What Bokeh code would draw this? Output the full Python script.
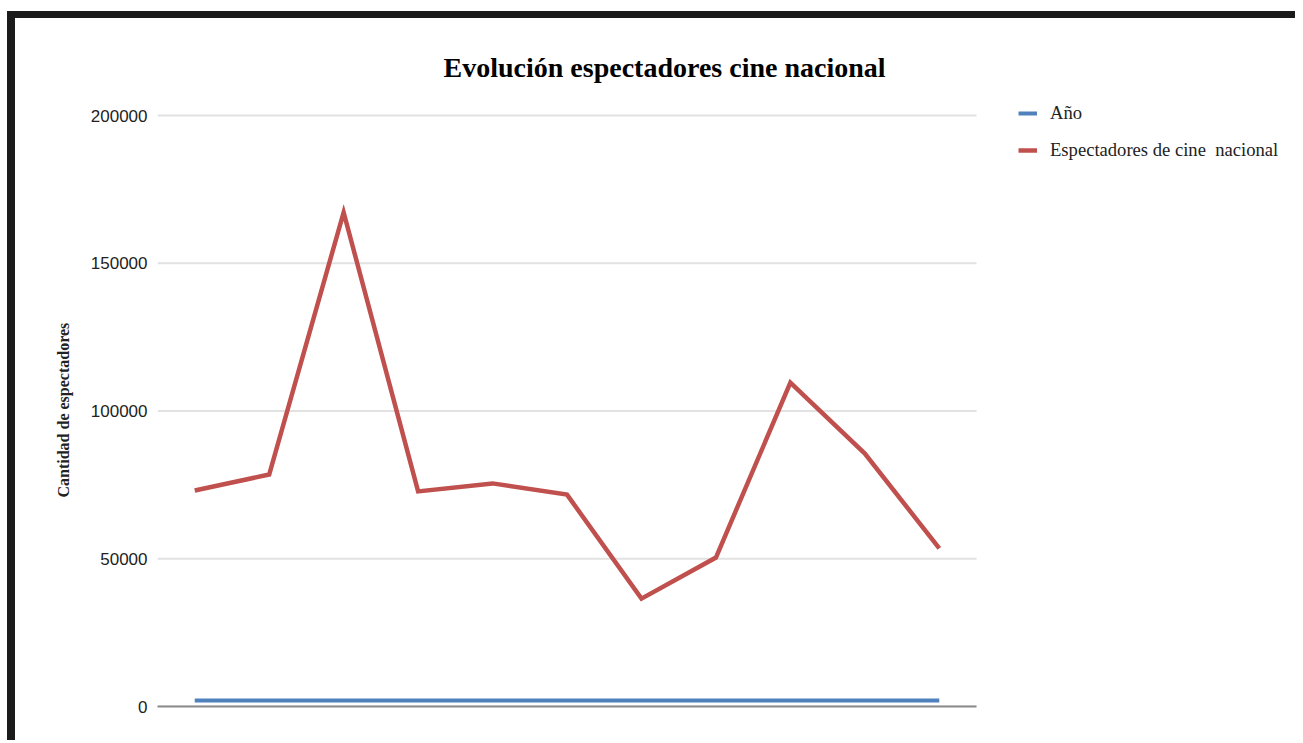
from bokeh.plotting import figure
from bokeh.models import (Range1d, Legend, LegendItem, Title,
                          NumeralTickFormatter, FixedTicker, Spacer)
from bokeh.layouts import column, row
from bokeh.embed import file_html
from bokeh.resources import INLINE

# ---- data ----
years = ["2009", "2010", "2011", "2012", "2013", "2014", "2015", "2016", "2017", "2018", "2019"]
anio = [2009, 2010, 2011, 2012, 2013, 2014, 2015, 2016, 2017, 2018, 2019]
espectadores = [73100, 78500, 167200, 72800, 75500, 71700, 36500, 50400, 109600, 85600, 53500]
y_ticks = [0, 50000, 100000, 150000, 200000]

# category slots: one unit per year, line points at the slot centres
n = len(years)
xs = [i + 0.5 for i in range(n)]

p = figure(width=1280, height=722, x_range=Range1d(0, 15.284),
           y_range=Range1d(0, 205753), output_backend="svg", toolbar_location=None,
           min_border_left=142, min_border_right=0, min_border_top=80,
           min_border_bottom=34)
p.outline_line_color = None
p.background_fill_color = "white"
p.border_fill_color = "white"

# horizontal gridlines spanning only the category area
p.segment(x0=[0] * len(y_ticks), x1=[n] * len(y_ticks), y0=y_ticks, y1=y_ticks,
          line_color="#e2e2e2", line_width=2)

r1 = p.line(xs, anio, line_color="#4f81bd", line_width=4)
r2 = p.line(xs, espectadores, line_color="#c0504d", line_width=4.5, line_join="miter")

p.xgrid.grid_line_color = None
p.ygrid.grid_line_color = None
p.yaxis.ticker = FixedTicker(ticks=y_ticks)
p.yaxis.formatter = NumeralTickFormatter(format="0")
p.yaxis.axis_line_color = None
p.yaxis.major_tick_line_color = None
p.yaxis.minor_tick_line_color = None
p.yaxis.major_tick_out = 0
p.yaxis.major_tick_in = 0
p.yaxis.major_label_standoff = 10
p.yaxis.major_label_text_font = "Liberation Sans"
p.yaxis.major_label_text_font_size = "17px"
p.yaxis.major_label_text_color = "#222222"

p.xaxis.bounds = (0, n)
p.xaxis.axis_line_color = "#8a8a8a"
p.xaxis.axis_line_width = 2
p.xaxis.major_tick_line_color = None
p.xaxis.minor_tick_line_color = None
p.xaxis.major_tick_out = 0
p.xaxis.major_label_text_font_size = "0px"
p.xaxis.major_label_text_color = None

title = Title(text="Evolución espectadores cine nacional", align="left", offset=286,
              standoff=31, text_font="Liberation Serif", text_font_style="bold",
              text_font_size="28px", text_color="#000000")
p.add_layout(title, "above")

ylabel = Title(text="Cantidad de espectadores", align="left", offset=209,
               standoff=31, text_font="Liberation Serif", text_font_style="bold",
               text_font_size="16px", text_color="#222222")
p.add_layout(ylabel, "left")

legend = Legend(items=[LegendItem(label="Año", renderers=[r1]),
                       LegendItem(label="Espectadores de cine  nacional", renderers=[r2])],
                location=(861, 545), orientation="vertical",
                label_text_font="Liberation Serif", label_text_font_size="18.6px",
                label_text_color="#222222", glyph_width=19, glyph_height=20,
                label_height=20, label_standoff=13, spacing=15, padding=0, margin=0,
                border_line_color=None, background_fill_alpha=0)
p.add_layout(legend)

bar_color = "#1b1b1b"
top_gap = Spacer(width=1290, height=11)
left_gap = Spacer(width=7, height=732)
top_bar = Spacer(width=1288, height=7, styles={"background-color": bar_color})
left_bar = Spacer(width=8, height=722, styles={"background-color": bar_color})

layout = column(top_gap,
                row(left_gap, column(top_bar, row(left_bar, p, spacing=0), spacing=0), spacing=0),
                spacing=0)

open("out.html", "w").write(file_html(layout, INLINE))
